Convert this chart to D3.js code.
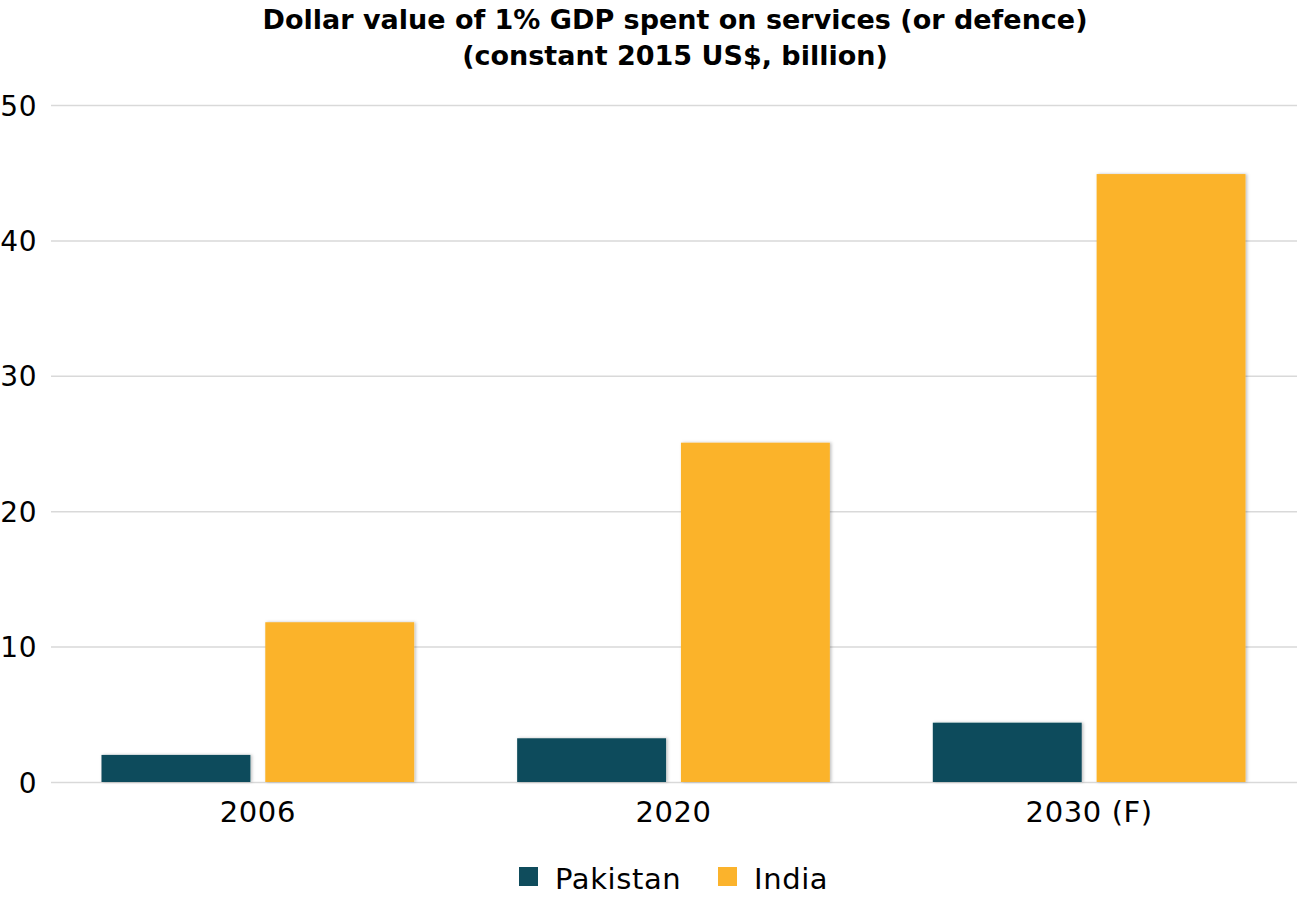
<!DOCTYPE html>
<html>
<head>
<meta charset="utf-8">
<script src="https://cdn.jsdelivr.net/npm/d3@7"></script>
<style>
  html, body { margin: 0; padding: 0; background: #fff; }
  svg { display: block; }
  text { font-family: "DejaVu Sans", Lato, sans-serif; fill: #000; }
</style>
</head>
<body>
<svg id="chart" width="1299" height="898"></svg>
<script>
const categories = ["2006", "2020", "2030 (F)"];
const seriesNames = ["Pakistan", "India"];
const pakistan = [2.0, 3.23, 4.38];
const india = [11.8, 25.06, 44.9];
const yTicks = [0, 10, 20, 30, 40, 50];
const titleLines = ["Dollar value of 1% GDP spent on services (or defence)", "(constant 2015 US$, billion)"];
const colors = ["#0f4c5c", "#fbb32c"];

const seriesValues = [pakistan, india];
const rows = categories.map((c, i) => ({ cat: c, values: seriesNames.map((s, j) => ({ series: s, value: seriesValues[j][i], color: colors[j] })) }));

const svg = d3.select("#chart");
const defs = svg.append("defs");
const f = defs.append("filter").attr("id", "shadow").attr("x", "-10%").attr("y", "-10%").attr("width", "130%").attr("height", "130%");
f.append("feDropShadow").attr("dx", 1.5).attr("dy", 0).attr("stdDeviation", 1.5).attr("flood-color", "#000").attr("flood-opacity", 0.25);

const x0 = d3.scaleBand().domain(categories).range([50, 1297]).paddingInner(0.2477).paddingOuter(0.12385);
const x1 = d3.scaleBand().domain(seriesNames).range([0, x0.bandwidth()]).paddingInner(0.091).paddingOuter(0);
const y = d3.scaleLinear().domain([0, 50]).range([782, 105]);

// title
svg.append("g").selectAll("text").data(titleLines).join("text")
  .attr("x", 675).attr("y", (d, i) => 29 + i * 36)
  .attr("text-anchor", "middle")
  .style("font-family", "DejaVu Sans").style("font-size", "27px").style("font-weight", "700")
  .text(d => d);

// grid
const yAxis = d3.axisLeft(y).tickValues(yTicks).tickSize(-(1297 - 51)).tickPadding(14);
const gy = svg.append("g").attr("transform", "translate(51,0)").call(yAxis);
gy.select(".domain").remove();
gy.selectAll(".tick line").attr("stroke", "#d9d9d9").attr("stroke-width", 1.5);
gy.selectAll(".tick text").style("font-family", "DejaVu Sans").style("font-size", "28px")
  .style("letter-spacing", "0.5px").attr("fill", "#000").attr("dy", "0.36em");

// bars
const groups = svg.append("g").selectAll("g").data(rows).join("g")
  .attr("transform", d => `translate(${x0(d.cat)},0)`);
groups.selectAll("rect").data(d => d.values).join("rect")
  .attr("x", d => x1(d.series))
  .attr("width", x1.bandwidth())
  .attr("y", d => y(d.value))
  .attr("height", d => y(0) - y(d.value))
  .attr("fill", d => d.color)
  .attr("filter", "url(#shadow)");

// x axis labels
const xAxis = d3.axisBottom(x0).tickSize(0).tickPadding(19);
const gx = svg.append("g").attr("transform", "translate(0,782)").call(xAxis);
gx.select(".domain").remove();
gx.selectAll(".tick text").style("font-family", "DejaVu Sans").style("font-size", "29px")
  .style("letter-spacing", "0.6px").attr("fill", "#000");

// legend
const legendItems = seriesNames.map((s, i) => ({ name: s, color: colors[i] }));
const legendX = [519, 718];
const lg = svg.append("g").selectAll("g").data(legendItems).join("g")
  .attr("transform", (d, i) => `translate(${legendX[i]},867)`);
lg.append("rect").attr("width", 19).attr("height", 19).attr("fill", d => d.color);
lg.append("text").attr("x", 36).attr("y", 22).style("font-size", "29px")
  .style("letter-spacing", "0.6px").text(d => d.name);
</script>
</body>
</html>
